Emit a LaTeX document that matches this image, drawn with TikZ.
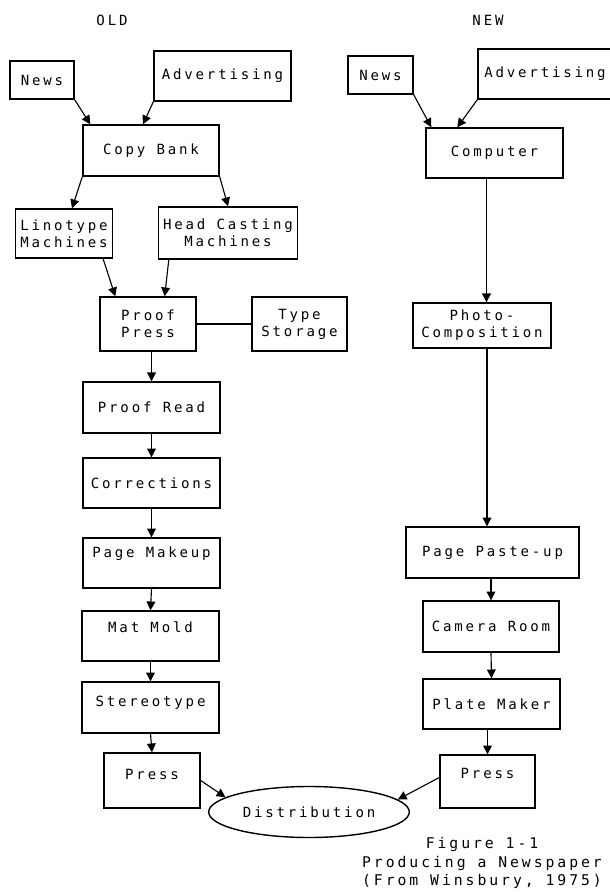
\documentclass[tikz,border=0pt]{standalone}
\usepackage{fontspec}
\newfontfamily\dotfont[LetterSpace=20]{DejaVu Sans Mono}
\usetikzlibrary{arrows.meta,shapes.geometric}

\begin{document}
\begin{tikzpicture}[x=0.25mm,y=-0.25mm,
  every node/.style={font=\dotfont\fontsize{10}{12}\selectfont},
  box/.style={draw,line width=1pt,align=center},
  up/.style={text height=2.4mm,text depth=#1},
  arr/.style={line width=0.8pt,-{Triangle[length=2.2mm,width=2.2mm]}}]
\useasboundingbox (0,0) rectangle (610,892);

\node (old) at (112,20) {OLD};
\node (new) at (488,20) {NEW};

\node[box,minimum width=16mm,minimum height=9.5mm] (onews) at (42,80) {News};
\node[box,minimum width=34.25mm,minimum height=12.5mm] (oadv) at (222.5,76) {Advertising};
\node[box,minimum width=34mm,minimum height=12.75mm] (copy) at (151,150.5) {Copy Bank};
\node[box,minimum width=23.5mm,minimum height=12.25mm] (lino) at (64,233.5) {Linotype\\Machines};
\node[box,minimum width=34mm,minimum height=13mm] (head) at (228,233) {Head Casting\\Machines};
\node[box,minimum width=24mm,minimum height=13.5mm] (proof) at (148,324) {Proof\\Press};
\node[box,minimum width=23.75mm,minimum height=13.5mm] (store) at (299.5,324) {Type\\Storage};
\node[box,minimum width=34.25mm,minimum height=12.75mm] (pread) at (151.5,407.5) {Proof Read};
\node[box,minimum width=34.25mm,minimum height=12.5mm] (corr) at (151.5,483) {Corrections};
\node[box,up=5.15mm,minimum width=34.25mm,minimum height=12.5mm] (makeup) at (151.5,563) {Page Makeup};
\node[box,up=4.15mm,minimum width=34.25mm,minimum height=12.5mm] (mat) at (150.5,636) {Mat Mold};
\node[box,up=2.9mm,minimum width=34.25mm,minimum height=12.75mm] (stereo) at (150.5,707.5) {Stereotype};
\node[box,up=2.9mm,minimum width=24mm,minimum height=13.75mm] (opress) at (152,780.5) {Press};

\node[box,ellipse,minimum width=38mm,minimum height=12.75mm] (dist) at (309,812) {Distribution};

\node[box,minimum width=16.25mm,minimum height=9.5mm] (nnews) at (380.5,75) {News};
\node[box,minimum width=33.5mm,minimum height=12.5mm] (nadv) at (545,74) {Advertising};
\node[box,minimum width=34.25mm,minimum height=12.5mm] (comp) at (494.5,153) {Computer};
\node[box,minimum width=34.5mm,minimum height=11.25mm] (photo) at (482,325.5) {Photo-\\Composition};
\node[box,minimum width=43.25mm,minimum height=12.75mm] (paste) at (492.5,552.5) {Page Paste-up};
\node[box,minimum width=34mm,minimum height=12.75mm] (camera) at (491,626.5) {Camera Room};
\node[box,minimum width=34.25mm,minimum height=12.5mm] (plate) at (491.5,704) {Plate Maker};
\node[box,up=3.9mm,minimum width=23.75mm,minimum height=13.25mm] (npress) at (487.5,781.5) {Press};

\node[align=center,font=\dotfont\fontsize{10.5}{13.2}\selectfont] (caption) at (482,863) {Figure 1-1\\Producing a Newspaper\\(From Winsbury, 1975)};

\draw[arr] (onews.south east) -- ([xshift=2mm]copy.north west);
\draw[arr] (oadv.south west) -- ([xshift=-2mm]copy.north);
\draw[arr] (copy.south west) -- ([xshift=2mm]lino.north);
\draw[arr] (copy.south east) -- (head.north);
\draw[arr] ([xshift=-2.5mm]lino.south east) -- ([xshift=4mm]proof.north west);
\draw[arr] ([xshift=2.75mm]head.south west) -- ([xshift=-8mm]proof.north east);
\draw[line width=0.8pt] (proof.east) -- (store.west);
\draw[arr] (pread.north |- proof.south) -- (pread.north);
\draw[arr] (pread.south) -- (corr.north);
\draw[arr] (corr.south) -- (makeup.north);
\draw[arr] (makeup.south) -- (mat.north);
\draw[arr] (mat.south) -- (stereo.north);
\draw[arr] (stereo.south) -- (opress.north);
\draw[arr] (opress.east) -- (dist.170);

\draw[arr] (nnews.south east) -- ([xshift=1.5mm]comp.north west);
\draw[arr] (nadv.south west) -- ([xshift=8mm]comp.north west);
\draw[arr] ([xshift=-2mm]comp.south) -- ([xshift=-2mm]comp.south |- photo.north);
\draw[arr] ([xshift=1.25mm]photo.south) -- ([xshift=1.25mm]photo.south |- paste.north);
\draw[arr] (camera.north |- paste.south) -- (camera.north);
\draw[arr] (camera.south) -- (plate.north);
\draw[arr] (npress.north |- plate.south) -- (npress.north);
\draw[arr] ([yshift=1mm]npress.west) -- (dist.8);
\end{tikzpicture}
\end{document}
